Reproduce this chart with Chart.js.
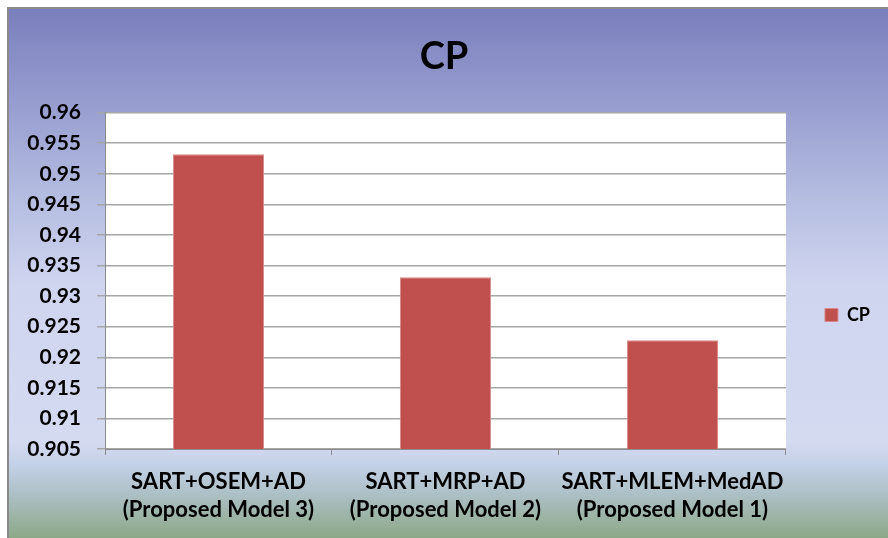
<!DOCTYPE html>
<html>
<head>
<meta charset="utf-8">
<title>CP</title>
<script src="https://cdn.jsdelivr.net/npm/chart.js@4/dist/chart.umd.min.js"></script>
<style>
    html, body { margin: 0; padding: 0; background: #ffffff; }
    #wrap { width: 888px; height: 538px; position: relative; }
</style>
</head>
<body>
<div id="wrap"><canvas id="cpChart"></canvas></div>
<script>
// chart data
const categories = [
    ['SART+OSEM+AD', '(Proposed Model 3)'],
    ['SART+MRP+AD', '(Proposed Model 2)'],
    ['SART+MLEM+MedAD', '(Proposed Model 1)']
];
const cpValues = [0.9532, 0.9331, 0.9228];
const yTicks = [0.905, 0.91, 0.915, 0.92, 0.925, 0.93, 0.935, 0.94, 0.945, 0.95, 0.955, 0.96];

const barColor = '#c0504d';

// background gradient, frame and white plot area
const backdrop = {
    id: 'backdrop',
    beforeDraw(chart) {
        const ctx = chart.ctx;
        const area = chart.chartArea;
        ctx.save();
        const g = ctx.createLinearGradient(0, 8, 0, 538);
        g.addColorStop(0, '#7a7fbd');
        g.addColorStop(0.18, '#979dcf');
        g.addColorStop(0.36, '#b5bde1');
        g.addColorStop(0.52, '#cfd5ef');
        g.addColorStop(0.82, '#d4daf0');
        g.addColorStop(0.86, '#c4d1e8');
        g.addColorStop(0.92, '#acbfc4');
        g.addColorStop(1, '#8ca887');
        ctx.fillStyle = g;
        ctx.fillRect(8, 8, 880, 530);
        ctx.strokeStyle = '#8a8a8a';
        ctx.lineWidth = 2;
        ctx.beginPath();
        ctx.moveTo(8, 538);
        ctx.lineTo(8, 8);
        ctx.lineTo(888, 8);
        ctx.stroke();
        ctx.fillStyle = '#ffffff';
        ctx.fillRect(area.left, area.top, area.right - area.left, area.bottom - area.top);
        ctx.restore();
    }
};

new Chart(document.getElementById('cpChart'), {
    type: 'bar',
    data: {
        labels: categories,
        datasets: [{
            label: 'CP',
            data: cpValues,
            backgroundColor: barColor,
            borderColor: '#d88a88',
            borderWidth: 1,
            barPercentage: 0.402,
            categoryPercentage: 1
        }]
    },
    options: {
        responsive: true,
        maintainAspectRatio: false,
        animation: false,
        layout: { padding: { left: 8, top: 8, right: 8, bottom: 0 } },
        plugins: {
            legend: {
                position: 'right',
                labels: {
                    color: '#000000',
                    boxWidth: 13,
                    boxHeight: 13,
                    padding: 39,
                    font: { family: 'Lato', size: 18, weight: 'bold' }
                },
                // empty title block only pushes the entry down a bit
                title: {
                    display: true,
                    text: '',
                    font: { size: 1, lineHeight: 1 },
                    padding: { top: 83, bottom: 0 }
                }
            },
            tooltip: { enabled: false },
            title: {
                display: true,
                text: 'CP',
                color: '#000000',
                font: { family: 'Lato', size: 38, weight: 'bold', lineHeight: 1.2 },
                padding: { top: 26, bottom: 33 }
            }
        },
        scales: {
            x: {
                grid: {
                    offset: true,
                    drawOnChartArea: false,
                    drawTicks: true,
                    tickLength: 6,
                    color: '#8c8c8c'
                },
                border: { color: '#8c8c8c', width: 1 },
                ticks: {
                    color: '#000000',
                    padding: 13,
                    maxRotation: 0,
                    autoSkip: false,
                    font: { family: 'Lato', size: 22, weight: 'bold', lineHeight: '28px' }
                },
                afterFit(scale) { scale.height = 89; }
            },
            y: {
                min: 0.905,
                max: 0.96,
                afterBuildTicks(scale) {
                    scale.ticks = yTicks.map(v => ({ value: v }));
                },
                grid: {
                    color: '#a6a6a6',
                    lineWidth: 1.5,
                    tickLength: 8
                },
                border: { color: '#8c8c8c', width: 1 },
                ticks: {
                    color: '#000000',
                    padding: 16,
                    font: { family: 'Lato', size: 21, weight: 'bold' },
                    callback: v => String(Number(v.toFixed(3)))
                },
                afterFit(scale) { scale.width = 97; }
            }
        }
    },
    plugins: [backdrop]
});
</script>
</body>
</html>
